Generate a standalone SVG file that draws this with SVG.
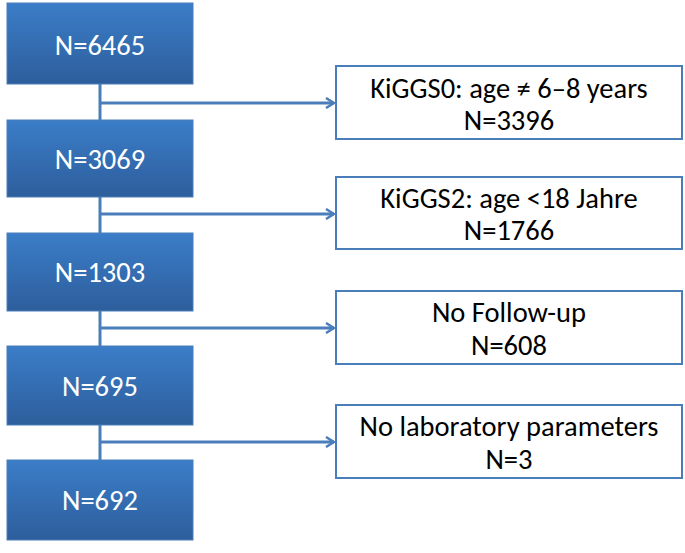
<svg xmlns="http://www.w3.org/2000/svg" width="685" height="553" viewBox="0 0 685 553">
<defs>
<linearGradient id="g" x1="0" y1="0" x2="0" y2="1"><stop offset="0" stop-color="#3b7dc8"/><stop offset="1" stop-color="#2d5e9c"/></linearGradient>
<marker id="a" markerWidth="10" markerHeight="12" refX="9" refY="6" orient="auto" markerUnits="userSpaceOnUse"><path d="M1,1 L9,6 L1,11" fill="none" stroke="#4a7ebb" stroke-width="2.5"/></marker>
</defs>
<style>
.b{fill:url(#g);stroke:#4a7ebb;stroke-width:1}
.r{fill:#fff;stroke:#4a7ebb;stroke-width:2}
.t{font-family:Carlito,"Liberation Sans",sans-serif;font-size:28.5px;text-anchor:middle}
.w{fill:#fff}
.k{fill:#000}
.c{stroke:#4a7ebb;stroke-width:3;fill:none}
</style>
<g id="connectors">
<path class="c" d="M100,84 V120 M100,197 V233 M100,311 V346 M100,425 V460"/>
<path class="c" d="M100,103 H334" marker-end="url(#a)"/>
<path class="c" d="M100,214 H334" marker-end="url(#a)"/>
<path class="c" d="M100,328 H334" marker-end="url(#a)"/>
<path class="c" d="M100,442 H334" marker-end="url(#a)"/>
</g>
<g id="n1"><rect class="b" x="7" y="3" width="186" height="81"/><text class="t w" x="100" y="55">N=6465</text></g>
<g id="n2"><rect class="b" x="7" y="120" width="186" height="77"/><text class="t w" x="100" y="169">N=3069</text></g>
<g id="n3"><rect class="b" x="7" y="233" width="186" height="78"/><text class="t w" x="100" y="282">N=1303</text></g>
<g id="n4"><rect class="b" x="7" y="346" width="186" height="79"/><text class="t w" x="100" y="396">N=695</text></g>
<g id="n5"><rect class="b" x="7" y="460" width="186" height="80"/><text class="t w" x="100" y="510">N=692</text></g>
<g id="e1"><rect class="r" x="336" y="66" width="346" height="73"/><text class="t k" x="509" y="98">KiGGS0: age ≠ 6–8 years</text><text class="t k" x="509" y="130">N=3396</text></g>
<g id="e2"><rect class="r" x="336" y="177" width="346" height="72"/><text class="t k" x="509" y="208">KiGGS2: age &lt;18 Jahre</text><text class="t k" x="509" y="240">N=1766</text></g>
<g id="e3"><rect class="r" x="336" y="291" width="346" height="73"/><text class="t k" x="509" y="322">No Follow-up</text><text class="t k" x="509" y="355">N=608</text></g>
<g id="e4"><rect class="r" x="336" y="405" width="346" height="73"/><text class="t k" x="509" y="436">No laboratory parameters</text><text class="t k" x="509" y="469">N=3</text></g>
</svg>
